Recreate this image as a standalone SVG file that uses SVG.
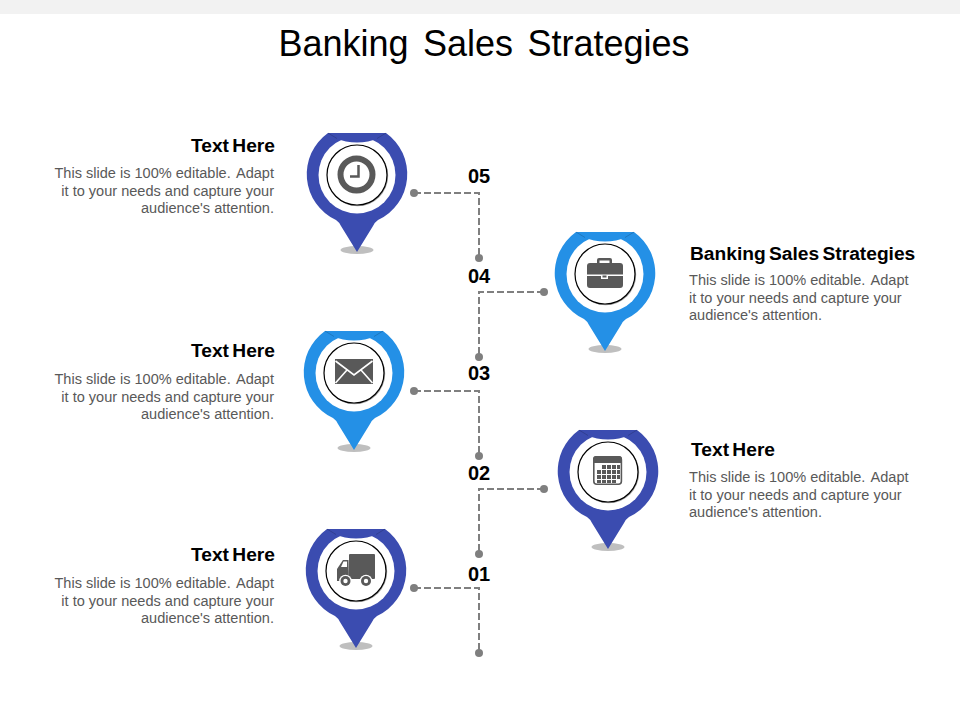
<svg xmlns="http://www.w3.org/2000/svg" xmlns:xlink="http://www.w3.org/1999/xlink" width="960" height="720" viewBox="0 0 960 720">
<style>
text{font-family:"Liberation Sans",Arial,sans-serif}
.title{font-size:36px;fill:#000;text-anchor:middle;word-spacing:4.5px}
.h{font-size:19.2px;font-weight:bold;fill:#000;word-spacing:-2px}
.b{font-size:14.56px;fill:#595959}
.r{text-anchor:end}
.n{font-size:20px;font-weight:bold;fill:#000;text-anchor:middle}
.line{fill:none;stroke:#7f7f7f;stroke-width:2;stroke-dasharray:7 3}
.dot{fill:#7f7f7f}
.i{fill:#595959}
.navy{fill:#3b4cb0}
.sky{fill:#2490e6}
</style>
<defs>
<g id="pin">
<ellipse cx="0" cy="75" rx="16.500" ry="4" fill="#bfbfbf"/>
<path d="M-29,-42A50.500,50.500 0 0 0 -21,45Q-18,47 -16,51L0,77L16,51Q18,47 21,45A50.500,50.500 0 0 0 29,-42Z"/>
<circle cx="0" cy="0" r="38.500" fill="#fff"/>
<path d="M-29,-42H29L22,-37Q0,-28 -22,-37Z"/>
<path d="M-29,-42L-20,-36.500M29,-42L20,-36.500" stroke="#000" stroke-opacity="0.220" stroke-width="0.800" fill="none"/>
<circle cx="0.700" cy="0.700" r="30.500" fill="#a6a6a6"/>
<circle cx="0" cy="0" r="30" fill="#fff" stroke="#000" stroke-width="1.200"/>
</g>
</defs>
<rect x="0" y="0" width="960" height="14" fill="#f2f2f2"/>
<text class="title" x="484" y="56">Banking Sales Strategies</text>
<g id="connectors">
<path class="line" d="M414,193H479V258"/>
<path class="line" d="M544,292H479V357"/>
<path class="line" d="M414,391H479V456"/>
<path class="line" d="M544,489H479V554"/>
<path class="line" d="M414,588H479V653"/>
<circle class="dot" cx="414" cy="193" r="4"/><circle class="dot" cx="479" cy="258" r="4"/>
<circle class="dot" cx="544" cy="292" r="4"/><circle class="dot" cx="479" cy="357" r="4"/>
<circle class="dot" cx="414" cy="391" r="4"/><circle class="dot" cx="479" cy="456" r="4"/>
<circle class="dot" cx="544" cy="489" r="4"/><circle class="dot" cx="479" cy="554" r="4"/>
<circle class="dot" cx="414" cy="588" r="4"/><circle class="dot" cx="479" cy="653" r="4"/>
</g>
<g id="numbers">
<text class="n" x="479" y="183">05</text>
<text class="n" x="479" y="283">04</text>
<text class="n" x="479" y="380">03</text>
<text class="n" x="479" y="480">02</text>
<text class="n" x="479" y="580.500">01</text>
</g>
<g id="node-05">
<use xlink:href="#pin" href="#pin" x="357" y="175" class="navy"/>
<circle cx="356.500" cy="174.500" r="16" fill="none" stroke="#595959" stroke-width="6"/>
<path d="M358.500,165V176.500H350" fill="none" stroke="#595959" stroke-width="2.500"/>
<text class="h r" x="275" y="152">Text Here</text>
<text class="b r" x="274" y="178">This slide is 100% editable. <tspan dx="2">Adapt</tspan></text>
<text class="b r" x="274" y="196">it to your needs and capture your</text>
<text class="b r" x="274" y="213">audience's attention.</text>
</g>
<g id="node-04">
<use xlink:href="#pin" href="#pin" x="605" y="274" class="sky"/>
<path class="i" fill-rule="evenodd" d="M597,264V260Q597,258 599,258H610Q612,258 612,260V264ZM599.500,263H609.500V260.500H599.500Z"/>
<path class="i" d="M590,263H620Q623,263 623,266V274.500H587V266Q587,263 590,263Z"/>
<path class="i" fill-rule="evenodd" d="M587,276H601V279H608V276H623V285Q623,288 620,288H590Q587,288 587,285Z"/>
<rect class="i" x="602.500" y="275.500" width="4" height="2"/>
<text class="h" x="690" y="260">Banking Sales Strategies</text>
<text class="b" x="689" y="285">This slide is 100% editable. <tspan dx="2">Adapt</tspan></text>
<text class="b" x="689" y="303">it to your needs and capture your</text>
<text class="b" x="689" y="320">audience's attention.</text>
</g>
<g id="node-03">
<use xlink:href="#pin" href="#pin" x="354" y="373" class="sky"/>
<rect class="i" x="335" y="359" width="38" height="25"/>
<path d="M335.500,361L354,375L372.500,361M335.500,383L347,370M372.500,383L361,370" fill="none" stroke="#fff" stroke-width="1.600"/>
<text class="h r" x="275" y="357">Text Here</text>
<text class="b r" x="274" y="384">This slide is 100% editable. <tspan dx="2">Adapt</tspan></text>
<text class="b r" x="274" y="402">it to your needs and capture your</text>
<text class="b r" x="274" y="419">audience's attention.</text>
</g>
<g id="node-02">
<use xlink:href="#pin" href="#pin" x="608" y="472" class="navy"/>
<rect x="593.800" y="456.800" width="27.600" height="27.400" rx="3" fill="#fff" stroke="#595959" stroke-width="1.600"/>
<path class="i" d="M593,463V459Q593,456 596,456H619Q622,456 622,459V463Z"/>
<path class="i" d="M602,465h4v4h-4zM607,465h4v4h-4zM612,465h4v4h-4zM617,465h3v4h-3zM597,470h4v4h-4zM602,470h4v4h-4zM607,470h4v4h-4zM612,470h4v4h-4zM617,470h3v4h-3zM597,475h4v4h-4zM602,475h4v4h-4zM607,475h4v4h-4zM612,475h4v4h-4zM617,475h3v4h-3zM597,480h4v3h-4zM602,480h4v3h-4zM607,480h4v3h-4zM612,480h4v3h-4z"/>
<text class="h" x="691" y="456">Text Here</text>
<text class="b" x="689" y="482">This slide is 100% editable. <tspan dx="2">Adapt</tspan></text>
<text class="b" x="689" y="500">it to your needs and capture your</text>
<text class="b" x="689" y="517">audience's attention.</text>
</g>
<g id="node-01">
<use xlink:href="#pin" href="#pin" x="356" y="571" class="navy"/>
<rect class="i" x="349" y="554" width="26" height="25" rx="1"/>
<path class="i" d="M348.500,560H343L337,569V581H349Z"/>
<path d="M347,561.500H343.500L341,567H347Z" fill="#fff"/>
<circle cx="345.500" cy="581" r="6.300" fill="#fff"/>
<circle cx="366" cy="581" r="6.300" fill="#fff"/>
<circle cx="345.500" cy="581" r="5" class="i"/>
<circle cx="366" cy="581" r="5" class="i"/>
<circle cx="345.500" cy="581" r="2.200" fill="#fff"/>
<circle cx="366" cy="581" r="2.200" fill="#fff"/>
<text class="h r" x="275" y="561">Text Here</text>
<text class="b r" x="274" y="588">This slide is 100% editable. <tspan dx="2">Adapt</tspan></text>
<text class="b r" x="274" y="606">it to your needs and capture your</text>
<text class="b r" x="274" y="623">audience's attention.</text>
</g>
</svg>
